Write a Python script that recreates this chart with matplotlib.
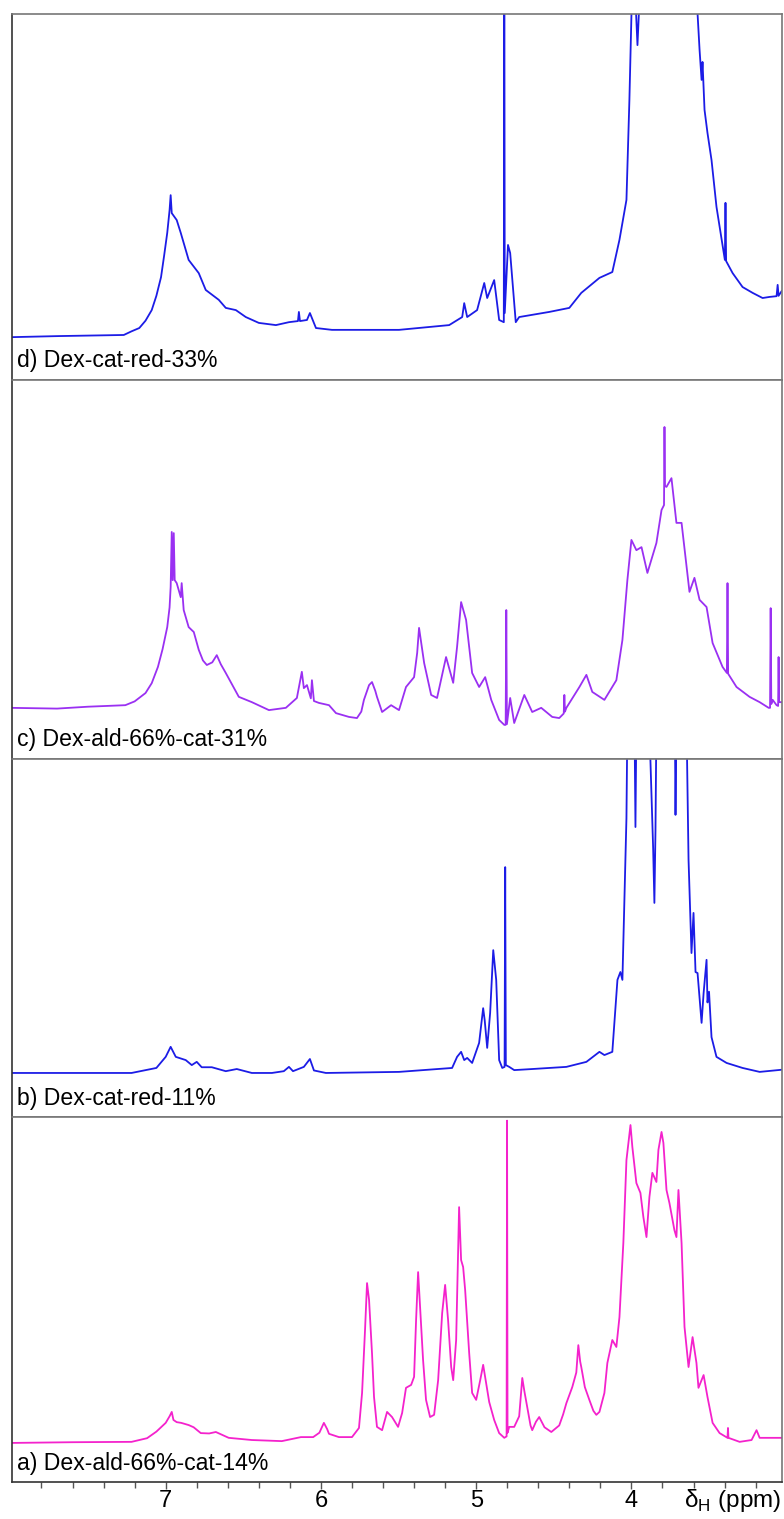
import matplotlib
matplotlib.use('Agg')
import matplotlib.pyplot as plt
import matplotlib.gridspec as gridspec
from matplotlib.ticker import FixedLocator, MultipleLocator, NullLocator

plt.rcParams['font.family'] = ['Liberation Sans', 'DejaVu Sans']

# chemical shift (ppm) and intensity (% of panel height)
d_ppm = [8.00, 7.69, 7.27, 7.22, 7.17, 7.13, 7.09, 7.06, 7.03, 7.01, 6.99, 6.975, 6.968, 6.961,
         6.929, 6.903, 6.852, 6.787, 6.742, 6.658, 6.613, 6.548, 6.484, 6.400, 6.290, 6.206,
         6.148, 6.142, 6.135, 6.090, 6.071, 6.032, 5.929, 5.497, 5.174, 5.090, 5.077, 5.058,
         4.994, 4.948, 4.929, 4.884, 4.852, 4.822, 4.819, 4.816, 4.795, 4.781, 4.745, 4.723,
         4.529, 4.400, 4.323, 4.206, 4.123, 4.077, 4.032, 4.013, 3.994, 3.974, 3.961, 3.948,
         3.929, 3.755, 3.587, 3.561, 3.548, 3.542, 3.529, 3.510, 3.484, 3.452, 3.398, 3.394,
         3.390, 3.348, 3.284, 3.219, 3.155, 3.110, 3.065, 3.058, 3.052, 3.032]
d_int = [11.7, 12.0, 12.3, 13.3, 14.2, 16.2, 19.1, 23.0, 28.1, 34.0, 40.2, 46.4, 50.5, 45.6,
         43.7, 40.2, 32.8, 29.2, 24.6, 21.9, 19.7, 19.1, 17.2, 15.6, 15.0, 15.8,
         16.1, 18.6, 16.1, 16.4, 18.3, 14.2, 13.7, 13.7, 15.0, 17.2, 21.0, 17.2,
         19.1, 26.5, 22.4, 27.3, 16.4, 15.8, 130, 18.3, 36.9, 34.7, 15.8, 17.2,
         18.6, 19.7, 23.8, 27.9, 29.5, 38.3, 49.2, 76.5, 110, 104, 91.5, 104,
         115, 160, 110, 90.2, 82.0, 86.9, 73.8, 67.5, 60.1, 47.3, 32.8, 48.4,
         32.5, 29.2, 25.4, 23.8, 22.4, 22.7, 22.9, 26.0, 23.0, 24.3]

c_ppm = [8.00, 7.70, 7.50, 7.26, 7.20, 7.13, 7.09, 7.05, 7.02, 6.99, 6.975, 6.968, 6.961, 6.955,
         6.948, 6.942, 6.929, 6.903, 6.897, 6.884, 6.852, 6.819, 6.787, 6.760, 6.735, 6.700,
         6.671, 6.645, 6.613, 6.529, 6.445, 6.335, 6.226, 6.155, 6.123, 6.110, 6.090, 6.065,
         6.058, 6.045, 6.013, 5.948, 5.903, 5.819, 5.768, 5.740, 5.723, 5.690, 5.671, 5.650,
         5.639, 5.606, 5.548, 5.497, 5.452, 5.400, 5.380, 5.368, 5.355, 5.335, 5.290, 5.252,
         5.194, 5.148, 5.123, 5.097, 5.065, 5.026, 4.981, 4.942, 4.903, 4.852, 4.819, 4.810,
         4.806, 4.802, 4.781, 4.755, 4.690, 4.639, 4.581, 4.510, 4.465, 4.436, 4.432, 4.428,
         4.419, 4.335, 4.290, 4.252, 4.174, 4.097, 4.058, 4.026, 4.000, 3.968, 3.935, 3.897,
         3.839, 3.806, 3.790, 3.787, 3.784, 3.774, 3.742, 3.710, 3.677, 3.626, 3.594, 3.561,
         3.516, 3.477, 3.413, 3.385, 3.381, 3.377, 3.323, 3.239, 3.174, 3.116, 3.107, 3.103,
         3.099, 3.090, 3.065, 3.055, 3.052, 3.049, 3.032]
c_int = [13.5, 13.3, 13.8, 14.2, 15.2, 17.4, 20.0, 24.3, 29.0, 34.8, 40.0, 45.4, 59.9, 47.2,
         59.6, 47.2, 46.4, 42.7, 46.4, 39.3, 34.8, 33.5, 28.8, 26.0, 24.8, 25.5,
         27.4, 25.0, 22.7, 16.4, 15.0, 12.9, 13.5, 16.1, 23.0, 18.7, 19.5, 16.0,
         20.8, 15.3, 14.8, 14.2, 12.1, 11.1, 10.8, 12.5, 15.6, 19.5, 20.3, 18.0,
         16.4, 12.4, 14.2, 12.9, 19.0, 21.6, 28.0, 34.6, 31.0, 25.3, 16.9, 16.1,
         26.9, 20.1, 29.6, 41.4, 36.7, 22.7, 19.0, 21.6, 15.6, 10.3, 9.0, 9.0,
         39.3, 9.2, 16.1, 9.5, 16.9, 12.4, 13.5, 11.1, 10.8, 12.0, 16.9, 12.5,
         13.5, 19.0, 22.2, 17.7, 15.6, 20.8, 31.4, 47.2, 57.8, 55.1, 55.9, 49.1,
         57.0, 65.7, 67.0, 87.6, 72.0, 71.8, 74.1, 62.3, 62.3, 44.1, 47.8, 42.0,
         40.1, 30.6, 24.3, 22.7, 46.4, 22.5, 19.0, 16.4, 15.0, 13.5, 13.5, 39.8,
         14.5, 15.6, 14.2, 14.0, 26.9, 15.0, 15.0]

b_ppm = [8.00, 7.50, 7.22, 7.06, 7.00, 6.968, 6.935, 6.871, 6.832, 6.800, 6.768, 6.703,
         6.613, 6.542, 6.445, 6.316, 6.239, 6.206, 6.180, 6.110, 6.071, 6.045, 5.968, 5.497,
         5.155, 5.123, 5.097, 5.077, 5.058, 5.026, 4.981, 4.955, 4.945, 4.929, 4.910, 4.890,
         4.871, 4.852, 4.832, 4.817, 4.813, 4.809, 4.787, 4.755, 4.639, 4.419, 4.290, 4.206,
         4.174, 4.123, 4.090, 4.071, 4.058, 4.032, 4.026, 3.980, 3.974, 3.968, 3.885, 3.860,
         3.852, 3.845, 3.839, 3.720, 3.716, 3.710, 3.645, 3.632, 3.613, 3.600, 3.587, 3.574,
         3.548, 3.535, 3.516, 3.510, 3.500, 3.484, 3.452, 3.387, 3.284, 3.174, 3.032]
b_int = [12.3, 12.3, 12.3, 13.7, 16.8, 19.6, 16.8, 15.9, 14.5, 15.4, 13.9, 13.9,
         12.8, 13.4, 12.3, 12.3, 12.8, 14.0, 12.8, 14.0, 16.2, 13.0, 12.3, 12.6,
         13.7, 16.8, 18.2, 15.9, 16.5, 15.1, 20.7, 30.4, 27.0, 19.3, 29.1, 46.6,
         38.3, 15.9, 13.7, 14.0, 69.8, 14.5, 14.0, 13.1, 13.4, 14.0, 15.4, 18.2,
         17.3, 18.2, 38.3, 40.5, 38.3, 83.5, 110, 110, 81.0, 110, 110, 75.0,
         59.8, 80.0, 110, 110, 84.4, 110, 110, 71.8, 45.8, 57.0, 40.5, 40.2,
         26.3, 34.6, 43.9, 32.0, 35.0, 22.3, 16.8, 15.1, 13.7, 12.6, 13.2]

a_ppm = [8.00, 7.60, 7.22, 7.12, 7.06, 7.00, 6.975, 6.961, 6.950, 6.929, 6.900, 6.852, 6.820,
         6.774, 6.720, 6.677, 6.640, 6.594, 6.445, 6.252, 6.129, 6.050, 6.010, 5.981, 5.960,
         5.948, 5.884, 5.800, 5.755, 5.735, 5.716, 5.703, 5.690, 5.671, 5.658, 5.639, 5.606,
         5.574, 5.542, 5.503, 5.477, 5.452, 5.419, 5.400, 5.387, 5.374, 5.361, 5.342, 5.323,
         5.297, 5.271, 5.245, 5.219, 5.200, 5.181, 5.161, 5.148, 5.129, 5.116, 5.110, 5.097,
         5.084, 5.071, 5.045, 5.026, 5.000, 4.974, 4.955, 4.929, 4.916, 4.884, 4.852, 4.819,
         4.804, 4.801, 4.798, 4.787, 4.755, 4.723, 4.703, 4.690, 4.671, 4.650, 4.639, 4.615,
         4.594, 4.560, 4.516, 4.465, 4.440, 4.419, 4.381, 4.355, 4.342, 4.330, 4.323, 4.300,
         4.271, 4.245, 4.226, 4.206, 4.174, 4.155, 4.123, 4.097, 4.077, 4.052, 4.032, 4.006,
         3.994, 3.968, 3.942, 3.923, 3.903, 3.884, 3.865, 3.839, 3.826, 3.806, 3.794, 3.774,
         3.755, 3.735, 3.723, 3.710, 3.697, 3.677, 3.658, 3.632, 3.606, 3.581, 3.568, 3.535,
         3.510, 3.477, 3.432, 3.381, 3.378, 3.375, 3.303, 3.226, 3.194, 3.174, 3.090, 3.032]
a_int = [10.7, 10.9, 11.0, 12.0, 13.8, 16.2, 18.0, 19.2, 17.0, 16.4, 16.2, 15.6, 15.0,
         13.4, 13.3, 13.7, 13.0, 12.1, 11.5, 11.2, 12.3, 12.3, 13.5, 16.2, 14.5,
         13.2, 12.3, 12.3, 14.8, 24.4, 41.6, 54.5, 49.9, 35.3, 23.3, 15.1, 14.2,
         19.2, 17.8, 15.1, 18.9, 25.8, 26.6, 28.8, 44.4, 57.5, 47.9, 33.4, 22.5,
         17.8, 18.4, 27.9, 46.3, 54.0, 44.4, 31.5, 27.9, 38.9, 64.4, 75.3, 60.8,
         58.9, 52.6, 35.3, 24.4, 22.5, 27.9, 32.1, 25.2, 21.9, 17.0, 13.4, 12.1,
         12.5, 99.0, 13.5, 15.1, 15.1, 18.0, 28.5, 25.0, 20.5, 15.5, 14.2, 16.5,
         17.8, 15.0, 13.7, 15.5, 18.5, 21.6, 26.0, 30.0, 37.5, 33.0, 31.5, 26.0,
         22.5, 19.5, 18.4, 19.2, 24.4, 32.6, 38.9, 37.0, 45.2, 65.5, 88.2, 97.8,
         91.8, 81.9, 79.2, 72.6, 67.1, 78.1, 84.7, 82.2, 91.0, 95.9, 92.9, 80.0,
         76.4, 71.8, 69.0, 67.1, 80.0, 65.5, 42.5, 31.5, 39.7, 32.6, 25.8, 29.3,
         23.3, 16.2, 13.4, 12.1, 14.8, 12.1, 11.0, 11.5, 14.2, 12.1, 12.1, 12.1]

labels = ['d) Dex-cat-red-33%', 'c) Dex-ald-66%-cat-31%', 'b) Dex-cat-red-11%', 'a) Dex-ald-66%-cat-14%']
colors = ['#1c1ce6', '#9a30f2', '#1c1ce6', '#f422cc']
series = [(d_ppm, d_int), (c_ppm, c_int), (b_ppm, b_int), (a_ppm, a_int)]

fig = plt.figure(figsize=(7.84, 15.19), dpi=100)
gs1 = gridspec.GridSpec(4, 1, height_ratios=[366, 379, 358, 365])
gs1.update(left=12/784, right=782/784, top=1-14/1519, bottom=1-1482/1519, hspace=0)

for i in range(4):
    ax = fig.add_subplot(gs1[i])
    x, y = series[i]
    ax.plot(x, y, color=colors[i], lw=1.3)
    ax.set_xlim(7.99, 3.03)
    ax.set_ylim(0, 100)
    ax.yaxis.set_major_locator(NullLocator())
    for s in ['top', 'right', 'bottom']:
        ax.spines[s].set_color('#777777')
        ax.spines[s].set_linewidth(1.2)
    ax.spines['left'].set_color('#333333')
    ax.spines['left'].set_linewidth(1.2)
    ax.text(0.006, 0.052, labels[i], transform=ax.transAxes, fontsize=16.6, ha='left', va='center')
    if i < 3:
        ax.xaxis.set_major_locator(NullLocator())
        ax.xaxis.set_minor_locator(NullLocator())
    else:
        ax.spines['bottom'].set_color('#333333')
        ax.xaxis.set_major_locator(FixedLocator([7, 6, 5, 4]))
        ax.xaxis.set_minor_locator(MultipleLocator(0.2))
        ax.tick_params(axis='x', which='major', direction='out', length=5, width=1, labelsize=17, pad=1, color='#555555')
        ax.tick_params(axis='x', which='minor', direction='out', length=4, width=1, color='#555555')
        ax.annotate('δ$_\\mathregular{H}$ (ppm)', xy=(1, 0), xycoords='axes fraction', xytext=(-1, -18),
                    textcoords='offset pixels', ha='right', va='center', fontsize=17.5)

plt.savefig('out.png', dpi=100)
